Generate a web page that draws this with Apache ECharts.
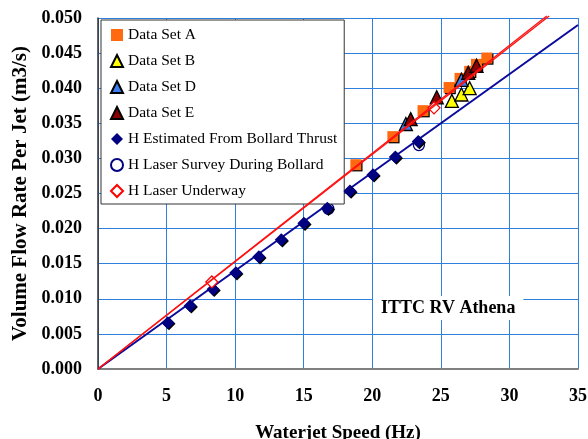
<!DOCTYPE html>
<html>
<head>
<meta charset="utf-8">
<script src="https://cdn.jsdelivr.net/npm/echarts@6/dist/echarts.min.js"></script>
<style>
  html, body { margin: 0; padding: 0; background: #fff; }
  #chart { width: 588px; height: 439px; }
</style>
</head>
<body>
<div id="chart"></div>
<script>
// Waterjet speed (Hz) vs volume flow rate per jet (m3/s)
const xTicks = [0, 5, 10, 15, 20, 25, 30, 35];
const yTicks = [0, 0.005, 0.01, 0.015, 0.02, 0.025, 0.03, 0.035, 0.04, 0.045, 0.05];

const dataSetA = [[18.8, 0.0291], [21.5, 0.0331], [23.7, 0.0368], [25.6, 0.0401],
                  [26.4, 0.0414], [27.1, 0.0424], [27.6, 0.0434], [28.35, 0.0443]];
const dataSetB = [[25.8, 0.0382], [26.5, 0.0391], [27.1, 0.0400]];
const dataSetD = [[22.45, 0.0349], [26.5, 0.0412]];
const dataSetE = [[22.8, 0.0356], [24.7, 0.0387], [27.0, 0.0422], [27.6, 0.0432]];
const bollardThrust = [[5.09, 0.0066], [6.72, 0.0090], [8.39, 0.01135], [10.05, 0.0137],
                       [11.73, 0.0160], [13.36, 0.0184], [15.01, 0.02075], [16.72, 0.0229],
                       [18.37, 0.02536], [20.05, 0.02768], [21.68, 0.0302], [23.35, 0.0324]];
const laserSurveyBollard = [[16.8, 0.0228], [23.4, 0.0319]];
const laserUnderway = [[8.3, 0.0124], [24.5, 0.0372]];

// fitted lines through the origin
const underwayFitA = [[0, 0], [32.9, 0.0503]];
const underwayFitB = [[0, 0], [32.72, 0.0503]];
const bollardFit = [[0, 0], [35, 0.0490]];

const serif = '"Liberation Serif", "Times New Roman", serif';
const shadow = { shadowColor: '#000', shadowBlur: 0, shadowOffsetX: 1.2, shadowOffsetY: 1.2 };

const chart = echarts.init(document.getElementById('chart'), null, { renderer: 'canvas' });

chart.setOption({
  animation: false,
  backgroundColor: '#fff',
  grid: { left: 98, right: 10, top: 18, bottom: 70, outerBoundsMode: 'none', containLabel: false },
  title: {
    text: 'ITTC RV Athena',
    left: 373, top: 296,
    backgroundColor: '#fff',
    padding: [3, 8, 3, 8],
    textStyle: { fontFamily: serif, fontWeight: 'bold', fontSize: 18, color: '#000' }
  },
  legend: {
    orient: 'vertical',
    left: 101, top: 20,
    padding: [7, 7, 5, 9],
    itemGap: 10,
    itemWidth: 12, itemHeight: 12,
    backgroundColor: '#fff',
    borderColor: '#333', borderWidth: 1,
    textStyle: { fontFamily: serif, fontSize: 15.5, color: '#000', lineHeight: 16 },
    data: [
      { name: 'Data Set A', itemStyle: { shadowColor: 'transparent' } },
      { name: 'Data Set B' },
      { name: 'Data Set D' },
      { name: 'Data Set E' },
      { name: 'H Estimated From Bollard Thrust', itemStyle: { shadowColor: 'transparent' } },
      { name: 'H Laser Survey During Bollard' },
      { name: 'H Laser Underway' }
    ]
  },
  xAxis: {
    type: 'value', min: 0, max: 35, interval: 5,
    name: 'Waterjet Speed (Hz)', nameLocation: 'middle', nameGap: 55,
    nameTextStyle: { fontFamily: serif, fontWeight: 'bold', fontSize: 19, color: '#000' },
    axisLine: { show: true, onZero: false, lineStyle: { color: '#808080', width: 2 } },
    axisTick: { show: false },
    axisLabel: {
      margin: 18, fontFamily: serif, fontWeight: 'bold', fontSize: 18, color: '#000',
      formatter: v => xTicks.includes(v) ? String(v) : ''
    },
    splitLine: { show: true, lineStyle: { color: '#2f7fdc', width: 1 } }
  },
  yAxis: {
    type: 'value', min: 0, max: 0.05, interval: 0.005,
    name: 'Volume Flow Rate Per Jet (m3/s)', nameLocation: 'middle', nameGap: 64,
    nameTextStyle: { fontFamily: serif, fontWeight: 'bold', fontSize: 21, color: '#000' },
    axisLine: { show: true, onZero: false, lineStyle: { color: '#333', width: 1.5 } },
    axisTick: { show: false },
    axisLabel: {
      margin: 16, fontFamily: serif, fontWeight: 'bold', fontSize: 18, color: '#000',
      formatter: v => {
        const t = yTicks.find(k => Math.abs(k - v) < 1e-9);
        return t === undefined ? '' : t.toFixed(3);
      }
    },
    splitLine: { show: true, lineStyle: { color: '#2f7fdc', width: 1 } }
  },
  series: [
    {
      name: 'Data Set A', type: 'scatter', data: dataSetA, z: 3,
      symbol: 'rect', symbolSize: 11,
      itemStyle: Object.assign({ color: '#ff6a10', opacity: 1 }, shadow)
    },
    {
      name: 'Data Set B', type: 'scatter', data: dataSetB, z: 4,
      symbol: 'triangle', symbolSize: 13,
      itemStyle: { color: '#ffff00', borderColor: '#000', borderWidth: 1.3, opacity: 1 }
    },
    {
      name: 'Data Set D', type: 'scatter', data: dataSetD, z: 4,
      symbol: 'triangle', symbolSize: 13,
      itemStyle: { color: '#3d7ff0', borderColor: '#000', borderWidth: 1.3, opacity: 1 }
    },
    {
      name: 'Data Set E', type: 'scatter', data: dataSetE, z: 4,
      symbol: 'triangle', symbolSize: 13,
      itemStyle: { color: '#8b0000', borderColor: '#000', borderWidth: 1.3, opacity: 1 }
    },
    {
      name: 'H Estimated From Bollard Thrust', type: 'scatter', data: bollardThrust, z: 4,
      symbol: 'diamond', symbolSize: 13,
      itemStyle: Object.assign({ color: '#000080', opacity: 1 }, shadow)
    },
    {
      name: 'H Laser Survey During Bollard', type: 'scatter', data: laserSurveyBollard, z: 3,
      symbol: 'circle', symbolSize: 11,
      itemStyle: { color: '#fff', borderColor: '#000080', borderWidth: 1.3, opacity: 1 }
    },
    {
      name: 'H Laser Underway', type: 'scatter', data: laserUnderway, z: 4,
      symbol: 'diamond', symbolSize: 12,
      itemStyle: { color: '#fff', borderColor: '#ff0000', borderWidth: 1.3, opacity: 1 }
    },
    {
      type: 'line', data: bollardFit, z: 3, clip: false,
      symbol: 'none', silent: true,
      lineStyle: { color: '#0a0a9c', width: 2 }
    },
    {
      type: 'line', data: underwayFitA, z: 5, clip: false,
      symbol: 'none', silent: true,
      lineStyle: { color: '#ff1010', width: 1.3 }
    },
    {
      type: 'line', data: underwayFitB, z: 5, clip: false,
      symbol: 'none', silent: true,
      lineStyle: { color: '#ff1010', width: 1.3 }
    }
  ]
});
</script>
</body>
</html>
